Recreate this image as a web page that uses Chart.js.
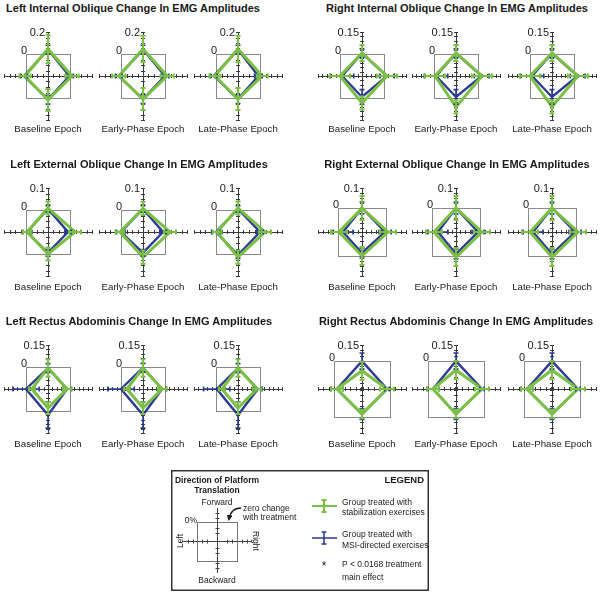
<!DOCTYPE html>
<html><head><meta charset="utf-8">
<script src="https://cdn.jsdelivr.net/npm/chart.js@4.4.0/dist/chart.umd.min.js"></script>
<style>
html,body{margin:0;padding:0;background:#fff;}
body{width:600px;height:595px;position:relative;overflow:hidden;font-family:"Liberation Sans",Arial,Helvetica,sans-serif;color:#1a1a1a;}
.t{position:absolute;white-space:nowrap;transform:translate(-50%,-50%);line-height:1;}
.title{font-weight:bold;font-size:11px;}
.ep{font-size:9.7px;color:#222;}
canvas.p{position:absolute;}
svg{position:absolute;}
svg text{font-family:"Liberation Sans",Arial,Helvetica,sans-serif;fill:#1a1a1a;}
</style></head><body>
<script>
// ---------------- DATA ----------------
const muscles = ['Left Internal Oblique','Right Internal Oblique','Left External Oblique','Right External Oblique','Left Rectus Abdominis','Right Rectus Abdominis'];
const epochs = ['Baseline Epoch','Early-Phase Epoch','Late-Phase Epoch'];
const directions = ['Forward','Right','Backward','Left'];
const axisTopLabels = ['0.2','0.15','0.1','0.1','0.15','0.15'];
const axisMax = [0.2, 0.15, 0.1, 0.1, 0.15, 0.15];
const axisCenter = [-0.2, -0.15, -0.1, -0.12, -0.15, -0.26];
const tickStep = [0.05, 0.03, 0.025, 0.025, 0.03, 0.05];

// values per epoch: [Forward, Right, Backward, Left]
const stabLIO = [[0.045,0.018,0.018,0.009],[0.045,0.02,0.01,0.02],[0.045,0.02,0.01,0.01]];
const stabLIOErr = [[0.13,0.06,0.1,0.05],[0.12,0.06,0.1,0.06],[0.12,0.05,0.1,0.05]];
const msiLIO = [[0.04,-0.005,0.015,0.018],[0.04,0.0,0.01,0.02],[0.04,-0.015,0.01,0.02]];
const msiLIOErr = [[0.04,0.035,0.04,0.03],[0.04,0.035,0.04,0.03],[0.04,0.035,0.04,0.03]];

const stabRIO = [[0.007,0.02,0.034,0.0],[0.007,0.027,0.061,-0.007],[0.007,0.027,0.06,0.0]];
const stabRIOErr = [[0.055,0.07,0.045,0.07],[0.055,0.07,0.045,0.07],[0.055,0.07,0.045,0.07]];
const msiRIO = [[0.005,0.02,-0.007,-0.014],[0.005,0.025,-0.007,-0.014],[0.005,0.025,-0.007,-0.014]];
const msiRIOErr = [[0.03,0.05,0.05,0.08],[0.03,0.05,0.05,0.08],[0.03,0.05,0.05,0.08]];

const stabLEO = [[0.009,0.023,0.0,-0.005],[0.007,0.023,0.014,0.005],[0.009,0.023,0.014,-0.005]];
const stabLEOErr = [[0.03,0.027,0.03,0.02],[0.03,0.027,0.03,0.02],[0.03,0.027,0.03,0.02]];
const msiLEO = [[0.005,-0.009,-0.005,-0.005],[0.005,-0.009,-0.005,0.0],[0.005,0.0,0.005,0.0]];
const msiLEOErr = [[0.015,0.015,0.015,0.02],[0.015,0.015,0.015,0.02],[0.015,0.015,0.015,0.02]];

const stabREO = [[0.0,0.01,0.0,-0.005],[0.0,0.01,0.005,-0.01],[0.0,0.01,0.005,-0.01]];
const stabREOErr = [[0.06,0.04,0.045,0.04],[0.06,0.04,0.045,0.04],[0.06,0.04,0.045,0.04]];
const msiREO = [[0.0,-0.005,-0.015,-0.025],[0.0,-0.01,-0.01,-0.03],[0.0,-0.005,-0.01,-0.025]];
const msiREOErr = [[0.03,0.03,0.025,0.05],[0.03,0.03,0.025,0.05],[0.03,0.03,0.025,0.05]];

const stabLRA = [[-0.007,-0.02,-0.02,-0.04],[-0.007,-0.02,-0.02,-0.04],[-0.007,-0.02,-0.02,-0.04]];
const stabLRAErr = [[0.06,0.03,0.04,0.02],[0.06,0.03,0.04,0.02],[0.06,0.03,0.04,0.02]];
const msiLRA = [[-0.007,-0.02,0.027,0.0],[-0.005,-0.02,0.027,0.0],[-0.007,-0.015,0.027,-0.005]];
const msiLRAErr = [[0.03,0.03,0.09,0.09],[0.03,0.03,0.09,0.09],[0.03,0.03,0.09,0.09]];

const stabRRA = [[-0.09,-0.027,-0.027,-0.027],[-0.083,-0.018,-0.027,-0.046],[-0.083,-0.018,-0.027,-0.027]];
const stabRRAErr = [[0.085,0.065,0.04,0.055],[0.085,0.065,0.04,0.055],[0.085,0.065,0.04,0.055]];
const msiRRA = [[0.0,-0.027,-0.027,-0.027],[0.0,-0.018,-0.027,-0.046],[0.0,-0.018,-0.027,-0.027]];
const msiRRAErr = [[0.075,0.02,0.05,0.055],[0.075,0.02,0.05,0.055],[0.075,0.02,0.05,0.055]];

const stabMeans = [stabLIO, stabRIO, stabLEO, stabREO, stabLRA, stabRRA];
const stabErrs = [stabLIOErr, stabRIOErr, stabLEOErr, stabREOErr, stabLRAErr, stabRRAErr];
const msiMeans = [msiLIO, msiRIO, msiLEO, msiREO, msiLRA, msiRRA];
const msiErrs = [msiLIOErr, msiRIOErr, msiLEOErr, msiREOErr, msiLRAErr, msiRRAErr];

// ---------------- STYLE / LAYOUT ----------------
const GREEN = '#7bbf45';
const BLUE = '#2d3b93';
const AXIS = '#3a3a3a';
const BOX = '#8a8a8a';
const colX = [[48,143,238],[362,456,552]];
const rowY = [76,232,389];
const titleX = [[133,457],[139,457],[139,456]];
const titleY = [8,164,321];
const epY = [129,287,444];
const W = 94, H = 100, R = 44;

function addText(txt, x, y, cls){
  const d = document.createElement('div');
  d.className = 't ' + cls;
  d.textContent = txt;
  d.style.left = x + 'px'; d.style.top = y + 'px';
  document.body.appendChild(d);
}

function toPts(vals, c){
  const r = vals.map(v => v - c);
  return [{x:0,y:r[0]},{x:r[1],y:0},{x:0,y:-r[2]},{x:-r[3],y:0},{x:0,y:r[0]}];
}

const panelPlugin = {
  id: 'panel',
  beforeDatasetsDraw(chart){
    const o = chart.options.plugins.panel;
    const ctx = chart.ctx, xs = chart.scales.x, ys = chart.scales.y;
    const span = o.max - o.c, sq = -o.c;
    ctx.save();
    ctx.strokeStyle = BOX; ctx.lineWidth = 1;
    const x0 = xs.getPixelForValue(-sq), x1 = xs.getPixelForValue(sq);
    const y0 = ys.getPixelForValue(sq), y1 = ys.getPixelForValue(-sq);
    ctx.strokeRect(Math.round(x0)+0.5, Math.round(y0)+0.5, Math.round(x1-x0), Math.round(y1-y0));
    const cx = xs.getPixelForValue(0), cy = ys.getPixelForValue(0);
    ctx.strokeStyle = AXIS; ctx.lineWidth = 1;
    ctx.beginPath();
    ctx.moveTo(xs.getPixelForValue(-span), Math.round(cy)+0.5); ctx.lineTo(xs.getPixelForValue(span), Math.round(cy)+0.5);
    ctx.moveTo(Math.round(cx)+0.5, ys.getPixelForValue(span)); ctx.lineTo(Math.round(cx)+0.5, ys.getPixelForValue(-span));
    ctx.stroke();
    const tk = [];
    for (let v = 0; v <= o.max + 1e-9; v += o.step) tk.push(v - o.c);
    for (let v = -o.step; v > o.c + 1e-9; v -= o.step) tk.push(v - o.c);
    tk.push(span);
    ctx.beginPath();
    tk.forEach(u => {
      [xs.getPixelForValue(u), xs.getPixelForValue(-u)].forEach(px => {
        ctx.moveTo(Math.round(px)+0.5, cy-2); ctx.lineTo(Math.round(px)+0.5, cy+2);
      });
      [ys.getPixelForValue(u), ys.getPixelForValue(-u)].forEach(py => {
        ctx.moveTo(cx-2, Math.round(py)+0.5); ctx.lineTo(cx+2, Math.round(py)+0.5);
      });
    });
    ctx.stroke();
    ctx.fillStyle = '#1a1a1a';
    ctx.font = '11px "Liberation Sans", Arial, sans-serif';
    ctx.textAlign = 'right'; ctx.textBaseline = 'middle';
    ctx.fillText(o.label, cx - 3, ys.getPixelForValue(span) + 1);
    ctx.fillText('0', x0 + 1, y0 - 3);
    ctx.restore();
  },
  afterDatasetsDraw(chart){
    const ctx = chart.ctx, xs = chart.scales.x, ys = chart.scales.y;
    const o = chart.options.plugins.panel;
    ctx.save();
    [0,1].forEach(di => {
      const ds = chart.data.datasets[di];
      const isGreen = ds.borderColor === GREEN;
      ctx.strokeStyle = ds.borderColor;
      ctx.lineWidth = isGreen ? 2 : 1.6;
      ds.vals.forEach((v, d) => {
        const u = v - o.c, e = ds.errs[d];
        const lo = u - e, hi = u + e;
        const sgn = (d === 0 || d === 1) ? 1 : -1;
        const vert = (d === 0 || d === 2);
        ctx.beginPath();
        if (vert){
          const px = xs.getPixelForValue(0);
          const a = ys.getPixelForValue(sgn*lo), b = ys.getPixelForValue(sgn*hi);
          ctx.moveTo(px, a); ctx.lineTo(px, b);
          ctx.moveTo(px-2.5, a); ctx.lineTo(px+2.5, a);
          ctx.moveTo(px-2.5, b); ctx.lineTo(px+2.5, b);
        } else {
          const py = ys.getPixelForValue(0);
          const a = xs.getPixelForValue(sgn*lo), b = xs.getPixelForValue(sgn*hi);
          ctx.moveTo(a, py); ctx.lineTo(b, py);
          ctx.moveTo(a, py-2.5); ctx.lineTo(a, py+2.5);
          ctx.moveTo(b, py-2.5); ctx.lineTo(b, py+2.5);
        }
        ctx.stroke();
      });
    });
    ctx.restore();
  }
};

function makePanel(canvas, mi, e){
  const c = axisCenter[mi], m = axisMax[mi];
  const span = m - c;
  new Chart(canvas, {
    type: 'scatter',
    data: { datasets: [
      { label: 'Group treated with MSI-directed exercises', data: toPts(msiMeans[mi][e], c), vals: msiMeans[mi][e], errs: msiErrs[mi][e],
        order: 2, showLine: true, borderColor: BLUE, borderWidth: 2.4, pointRadius: 0, borderJoinStyle: 'miter', tension: 0 },
      { label: 'Group treated with stabilization exercises', data: toPts(stabMeans[mi][e], c), vals: stabMeans[mi][e], errs: stabErrs[mi][e],
        order: 1, showLine: true, borderColor: GREEN, borderWidth: 3, pointRadius: 0, borderJoinStyle: 'miter', tension: 0 }
    ]},
    options: {
      responsive: false, animation: false, events: [],
      layout: { padding: 0 },
      plugins: { legend: { display: false }, tooltip: { enabled: false },
        panel: { c: c, max: m, step: tickStep[mi], label: axisTopLabels[mi] } },
      scales: {
        x: { type: 'linear', display: false, min: -span*(W/2)/R, max: span*(W/2)/R },
        y: { type: 'linear', display: false, min: -span*(H/2)/R, max: span*(H/2)/R }
      }
    },
    plugins: [panelPlugin]
  });
}

muscles.forEach((name, mi) => {
  const col = mi % 2, row = Math.floor(mi / 2);
  addText(name + ' Change In EMG Amplitudes', titleX[row][col], titleY[row], 'title');
  for (let e = 0; e < 3; e++){
    const cx = colX[col][e], cy = rowY[row];
    const cv = document.createElement('canvas');
    cv.className = 'p'; cv.width = W; cv.height = H;
    cv.style.left = (cx - W/2) + 'px'; cv.style.top = (cy - H/2) + 'px';
    document.body.appendChild(cv);
    makePanel(cv, mi, e);
    addText(epochs[e], cx, epY[row], 'ep');
  }
});
</script>

<svg style="left:171px;top:470px" width="259" height="122" viewBox="0 0 259 122">
  <defs>
    <marker id="ah" markerWidth="6" markerHeight="6" refX="4" refY="3" orient="auto" markerUnits="userSpaceOnUse">
      <path d="M0,0 L6,3 L0,6 z" fill="#1a1a1a"/>
    </marker>
  </defs>
  <rect x="0.75" y="0.75" width="256.5" height="119.5" fill="none" stroke="#333" stroke-width="1.5"/>
  <text x="46" y="13" font-size="8.5" font-weight="bold" text-anchor="middle">Direction of Platform</text>
  <text x="46" y="23" font-size="8.5" font-weight="bold" text-anchor="middle">Translation</text>
  <text x="253" y="13" font-size="9.5" font-weight="bold" text-anchor="end">LEGEND</text>
  <text x="46" y="35" font-size="8.5" text-anchor="middle">Forward</text>
  <text x="46" y="113" font-size="8.5" text-anchor="middle">Backward</text>
  <text x="26" y="53" font-size="8.5" text-anchor="end">0%</text>
  <text font-size="8.5" text-anchor="middle" transform="translate(12,71) rotate(-90)">Left</text>
  <text font-size="8.5" text-anchor="middle" transform="translate(82,71) rotate(90)">Right</text>
  <rect x="26.5" y="52.5" width="40" height="39" fill="none" stroke="#777" stroke-width="1"/>
  <path d="M46.5,38 V103 M12,71.5 H81" stroke="#444" stroke-width="1"/>
  <path d="M44.5,43.5 H48.5 M44.5,48.5 H48.5 M44.5,58.5 H48.5 M44.5,63.5 H48.5 M44.5,78.5 H48.5 M44.5,83.5 H48.5 M44.5,93.5 H48.5 M44.5,98.5 H48.5 M17.5,69.5 V73.5 M22.5,69.5 V73.5 M31.5,69.5 V73.5 M36.5,69.5 V73.5 M56.5,69.5 V73.5 M61.5,69.5 V73.5 M71.5,69.5 V73.5 M76.5,69.5 V73.5" stroke="#444" stroke-width="1"/>
  <text x="72" y="41" font-size="8.5">zero change</text>
  <text x="72" y="50" font-size="8.5">with treatment</text>
  <path d="M70,38 Q60,38 58,49" fill="none" stroke="#1a1a1a" stroke-width="1.3" marker-end="url(#ah)"/>
  <path d="M141,36 H166 M153,30 V42 M150.5,30 H155.5 M150.5,42 H155.5" stroke="#7bbf45" stroke-width="2" fill="none"/>
  <path d="M141,68 H166 M153,62 V74 M150.5,62 H155.5 M150.5,74 H155.5" stroke="#2d3b93" stroke-width="1.6" fill="none"/>
  <text x="171" y="35" font-size="8.5">Group treated with</text>
  <text x="171" y="45" font-size="8.5">stabilization exercises</text>
  <text x="171" y="67" font-size="8.5">Group treated with</text>
  <text x="171" y="78" font-size="8.5">MSI-directed exercises</text>
  <text x="153" y="100" font-size="12" text-anchor="middle">*</text>
  <text x="171" y="97" font-size="8.5">P &lt; 0.0168 treatment</text>
  <text x="171" y="110" font-size="8.5">main effect</text>
</svg>
</body></html>
